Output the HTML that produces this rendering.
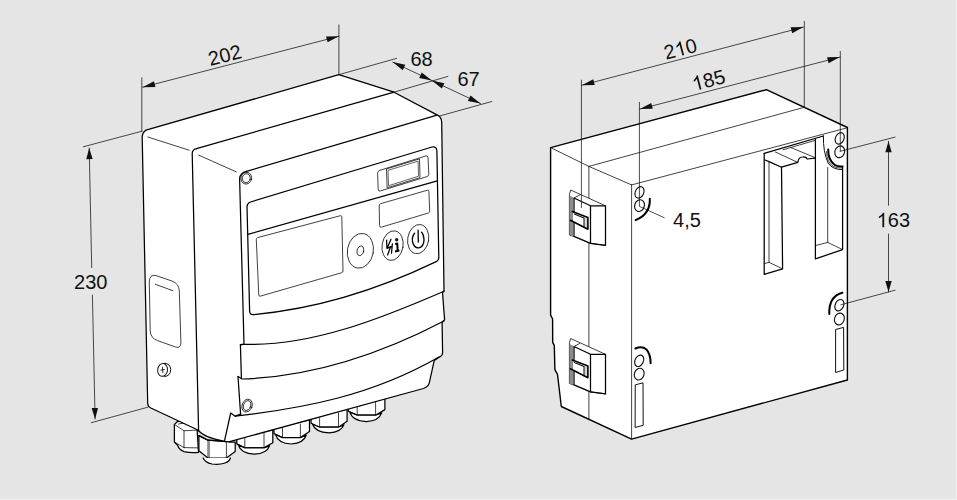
<!DOCTYPE html>
<html><head><meta charset="utf-8"><title>Dimensions</title>
<style>
html,body{margin:0;padding:0;background:#e5e5e5;}
body{width:957px;height:500px;overflow:hidden;font-family:"Liberation Sans",sans-serif;}
svg{display:block}
text{font-family:"Liberation Sans",sans-serif;}
</style></head><body>
<svg width="957" height="500" viewBox="0 0 957 500" stroke-linecap="round" stroke-linejoin="round">
<rect x="0" y="0" width="957" height="500" fill="#e5e5e5"/>
<rect x="956" y="0" width="1" height="500" fill="#f1f1f1"/>
<rect x="0" y="499" width="957" height="1" fill="#f0f0f0"/>
<path d="M174.4,424.4 L177.6,421.5 Q186,420 197,428 L198.5,452.4 Q190,453 184,451.6 Q179,449.5 177.6,445.2 L174.4,442 Z" fill="#ffffff" stroke="#000000" stroke-width="1.25" />
<line x1="184" y1="430.8" x2="184" y2="447.6" stroke="#111111" stroke-width="0.8"/>
<line x1="174.4" y1="442" x2="184" y2="447.6" stroke="#111111" stroke-width="0.8"/>
<line x1="184" y1="447.6" x2="198.4" y2="447.9" stroke="#111111" stroke-width="0.8"/>
<path d="M178.5,424 Q186,421.5 193.5,427.5" fill="none" stroke="#111111" stroke-width="0.8" />
<path d="M174.4,424.4 L184,430.8 L197.9,430" fill="none" stroke="#111111" stroke-width="0.8" />
<path d="M236.8,436 L236.8,443.9 L244.8,447.9 L264,447.9 L272.8,442.8 L272.8,430 Z" fill="#ffffff" stroke="#000000" stroke-width="1.25" />
<line x1="244.8" y1="438" x2="244.8" y2="447.9" stroke="#111111" stroke-width="0.8"/>
<line x1="264" y1="433" x2="264" y2="447.9" stroke="#111111" stroke-width="0.8"/>
<path d="M238.3,444.9 Q240.8,453.6 254.4,454.20000000000005 Q266.8,453.6 269.6,445.85 L264,447.9 L244.8,447.9 Z" fill="#ffffff" stroke="#000000" stroke-width="1.25" />
<path d="M274,428 L274,433.6 L282.5,437.6 L300.4,437.6 L309.5,431.5 L309.5,420 Z" fill="#ffffff" stroke="#000000" stroke-width="1.25" />
<line x1="282.5" y1="428" x2="282.5" y2="437.6" stroke="#111111" stroke-width="0.8"/>
<line x1="300.4" y1="424" x2="300.4" y2="437.6" stroke="#111111" stroke-width="0.8"/>
<path d="M275.5,434.6 Q278,443.4 291.45,444.0 Q303.5,443.4 306.3,435.05 L300.4,437.6 L282.5,437.6 Z" fill="#ffffff" stroke="#000000" stroke-width="1.25" />
<path d="M311.1,418 L311.1,423.2 L319.6,427.2 L338.5,427.2 L347.1,421.3 L347.1,409 Z" fill="#ffffff" stroke="#000000" stroke-width="1.25" />
<line x1="319.6" y1="418" x2="319.6" y2="427.2" stroke="#111111" stroke-width="0.8"/>
<line x1="338.5" y1="412.8" x2="338.5" y2="427.2" stroke="#111111" stroke-width="0.8"/>
<path d="M312.6,424.2 Q315.1,432.2 329.05,432.8 Q341.1,432.2 343.90000000000003,424.75 L338.5,427.2 L319.6,427.2 Z" fill="#ffffff" stroke="#000000" stroke-width="1.25" />
<path d="M348.4,408 L348.4,411.2 L357.2,415.2 L375.6,415.2 L384.9,409.6 L384.9,398.5 Z" fill="#ffffff" stroke="#000000" stroke-width="1.25" />
<line x1="357.2" y1="407.2" x2="357.2" y2="415.2" stroke="#111111" stroke-width="0.8"/>
<line x1="375.6" y1="401.6" x2="375.6" y2="415.2" stroke="#111111" stroke-width="0.8"/>
<path d="M349.9,412.2 Q352.4,421 366.4,421.6 Q378.9,421 381.7,412.9 L375.6,415.2 L357.2,415.2 Z" fill="#ffffff" stroke="#000000" stroke-width="1.25" />
<path d="M142.2,137.4 Q142.3,132.4 146,130.1 L338.8,74.7 L394,92.2 L436.5,114.6 Q441.4,116.5 441.7,122 L444,291.2 L442.5,292.6 L444.6,319.8 L442.1,322.2 L442.6,352.8 Q442.6,355.6 439.5,357 L434.2,360.6 L429.4,382.4 Q428.4,387 423.4,388.5 L228.8,441.9 L224.2,441.3 Q204,437.5 197.9,430 L150.8,408 Q147.8,406.5 147.7,403.5 Z" fill="#ffffff" stroke="#000000" stroke-width="1.25" />
<path d="M198.9,435.6 L198.9,450.8 L208,458 L226.4,458 L235.2,451.6 L235.2,442 L228.8,442 Q214,440.5 208,440.2 Z" fill="#ffffff" stroke="#000000" stroke-width="1.25" />
<line x1="208" y1="440.4" x2="208" y2="458" stroke="#111111" stroke-width="0.8"/>
<line x1="209.3" y1="441" x2="209.3" y2="458" stroke="#111111" stroke-width="0.6"/>
<line x1="226.4" y1="442" x2="226.4" y2="458" stroke="#111111" stroke-width="0.8"/>
<path d="M203.2,458 Q205,462.6 212,464 Q219,465 225,463 Q229.5,461.5 230.4,458" fill="#ffffff" stroke="#000000" stroke-width="1.25" />
<path d="M198.9,435.6 L208,440.2 L226,441.6" fill="none" stroke="#000000" stroke-width="1.25" />
<line x1="394" y1="92.2" x2="196.5" y2="148.6" stroke="#000000" stroke-width="1.25"/>
<line x1="437" y1="115.2" x2="246.5" y2="171.4" stroke="#000000" stroke-width="1.25"/>
<line x1="147.8" y1="137" x2="189.1" y2="150.2" stroke="#111111" stroke-width="0.8"/>
<line x1="198.7" y1="155.1" x2="236.3" y2="171.9" stroke="#111111" stroke-width="0.8"/>
<path d="M198.6,431 L192.2,153.5 Q192.3,149.6 196.5,148.6" fill="none" stroke="#000000" stroke-width="1.25" />
<path d="M246.5,171.4 Q240.2,172.8 239.6,178.5 L244,344.4" fill="none" stroke="#000000" stroke-width="1.25" />
<path d="M244,344.4 L240.4,344.7 L241.4,378" fill="none" stroke="#000000" stroke-width="1.25" />
<path d="M238,376.5 L240.6,414.2" fill="none" stroke="#000000" stroke-width="1.25" />
<path d="M240.6,414.2 L235.2,416.2 L230.7,413 L224.4,441.3" fill="none" stroke="#000000" stroke-width="1.25" />
<path d="M240.4,344.7 L244,344.4 C310.7,346.1 377.3,320.1 444,291.2" fill="none" stroke="#000000" stroke-width="1.25" />
<path d="M238,376.5 L242,379 C309.3,376.9 376.7,356.1 444,321" fill="none" stroke="#000000" stroke-width="1.25" />
<path d="M235.2,416.2 C303.1,408.3 371.1,396 439,357" fill="none" stroke="#000000" stroke-width="1.25" />
<path d="M249.6,310.5 L247,206.5 Q247.2,203.2 250.5,202 L432,147 Q436.6,146 436.9,151 L438.8,257.5 Q438.8,260.4 436.2,261.6 C375.3,290.9 314.2,309.1 253,314.6 Q249.8,314.8 249.6,311 Z" fill="none" stroke="#000000" stroke-width="1.25" />
<line x1="248" y1="234.4" x2="437.3" y2="180.8" stroke="#000000" stroke-width="1.25"/>
<path d="M377.6,173 Q377.5,171.2 379.3,170.5 L426,155.9 Q427.9,155.5 428,157.4 L428.8,174.2 Q428.8,176 427,176.6 L380.2,191 Q378.3,191.5 378.2,189.6 Z" fill="none" stroke="#111111" stroke-width="0.8" />
<path d="M386.9,168.8 L419.5,158.9 L420,177.6 L387.5,187.7 Z" fill="none" stroke="#111111" stroke-width="0.8" />
<path d="M388.4,170.2 L418.1,161.2 L418.5,176.2 L388.9,185.6 Z" fill="none" stroke="#111111" stroke-width="0.65" />
<path d="M379.2,205.6 Q379.2,204.2 380.6,203.7 L427.5,190.2 Q428.9,189.9 428.9,191.4 L429.7,211.2 Q429.7,212.6 428.4,213 L381.2,227.2 Q379.7,227.5 379.6,226 Z" fill="none" stroke="#111111" stroke-width="0.8" />
<path d="M256.3,239.3 Q256.3,238 257.6,237.6 L340.4,215.7 Q341.7,215.5 341.8,216.8 L343,271 Q343,272.3 341.8,272.7 L260.2,296.2 Q258.9,296.5 258.8,295.2 Z" fill="none" stroke="#111111" stroke-width="0.8" />
<ellipse cx="360.4" cy="250.8" rx="13.0" ry="17.5" transform="rotate(10 360.4 250.8)" fill="none" stroke="#111111" stroke-width="0.8"/>
<ellipse cx="360.4" cy="250.8" rx="3.3" ry="4.9" transform="rotate(14 360.4 250.8)" fill="none" stroke="#111111" stroke-width="0.8"/>
<ellipse cx="392.6" cy="245.6" rx="10.5" ry="14.9" transform="rotate(10 392.6 245.6)" fill="none" stroke="#111111" stroke-width="0.8"/>
<ellipse cx="418.2" cy="239.1" rx="10.5" ry="14.7" transform="rotate(10 418.2 239.1)" fill="none" stroke="#111111" stroke-width="0.8"/>
<path d="M414.6,233.2 Q411.6,236.6 412.6,242 Q414.2,248.4 419,247.8 Q423.8,246.6 424,240 Q423.8,234.6 421.6,232.2" fill="none" stroke="#000000" stroke-width="1.35" />
<line x1="418.1" y1="230.2" x2="418.3" y2="242" stroke="#000000" stroke-width="1.3"/>
<path d="M386.6,240.2 L386.9,248 M391,239.2 L387,248.4 L392.2,246.2 M392.4,243.8 L391.5,253.2 M390.4,247.2 L387.6,255" fill="none" stroke="#000000" stroke-width="1.25" />
<path d="M395.2,243.9 L397.3,243.6 L397.6,250.6 M395,251.4 L399.4,250.5" fill="none" stroke="#000000" stroke-width="2.0" stroke-linecap="butt"/>
<ellipse cx="396.7" cy="239.7" rx="1.6" ry="1.7" transform="rotate(0 396.7 239.7)" fill="#111111" stroke="#111111" stroke-width="0.1"/>
<ellipse cx="246.3" cy="178.2" rx="5.4" ry="5.9" transform="rotate(15 246.3 178.2)" fill="none" stroke="#111111" stroke-width="0.8"/>
<ellipse cx="246.3" cy="178.2" rx="4.0" ry="4.5" transform="rotate(15 246.3 178.2)" fill="none" stroke="#111111" stroke-width="0.8"/>
<ellipse cx="247.1" cy="405.6" rx="5.0" ry="6.6" transform="rotate(22 247.1 405.6)" fill="none" stroke="#111111" stroke-width="0.8"/>
<ellipse cx="247.1" cy="405.6" rx="3.6" ry="5.1" transform="rotate(22 247.1 405.6)" fill="none" stroke="#111111" stroke-width="0.8"/>
<path d="M149.3,281.5 Q149.4,274 156,275.6 L172,281 Q179,283.6 179.3,291 L180.9,342.5 Q181,348.6 175.5,347 L157.5,340.6 Q150.4,338 150.2,331 Z" fill="none" stroke="#111111" stroke-width="0.8" />
<line x1="155.3" y1="284.3" x2="172.9" y2="290.7" stroke="#111111" stroke-width="0.8"/>
<ellipse cx="162.6" cy="369.9" rx="4.9" ry="6.4" transform="rotate(8 162.6 369.9)" fill="none" stroke="#111111" stroke-width="1.0"/>
<path d="M164.4,363.2 Q170.4,363.4 170.7,369.6 Q170.6,376 164.6,376.6" fill="none" stroke="#111111" stroke-width="1.0" />
<line x1="162.4" y1="367.2" x2="162.9" y2="372.8" stroke="#111111" stroke-width="0.85"/>
<line x1="160.8" y1="370.1" x2="164.4" y2="369.5" stroke="#111111" stroke-width="0.85"/>
<path d="M550.6,147.6 L766.4,89.7 L847.4,127.5 L847.4,380 L631.6,439.1 L561.3,406.5 L557.5,374.4 L554.9,369.6 L554.3,345.6 L552.7,342.4 L552.6,319 L550.6,315.2 Z" fill="#ffffff" stroke="#000000" stroke-width="1.4" />
<path d="M550.6,147.6 L588.9,166.4 L631.6,184.9" fill="none" stroke="#111111" stroke-width="0.8" />
<line x1="588.9" y1="166.4" x2="804.3" y2="107.3" stroke="#111111" stroke-width="0.8"/>
<line x1="631.6" y1="184.9" x2="846.6" y2="128" stroke="#111111" stroke-width="0.8"/>
<line x1="588.9" y1="166.4" x2="588.9" y2="419.2" stroke="#111111" stroke-width="0.8"/>
<line x1="631.6" y1="184.9" x2="631.6" y2="439.1" stroke="#111111" stroke-width="0.8"/>
<path d="M571.0,190.2 L605.5,205.8 L605.5,245.4 L590.5,243.4 L573.0,236.3 L569.4,235.0 L569.4,194.7 Z" fill="#ffffff" stroke="#111111" stroke-width="0.8" />
<path d="M569.7,195.6 L573.0,197.2 L573.0,235.9 L569.7,234.7 Z" fill="#8c8c8c" stroke="none"/>
<path d="M574.0,212.5 L574.0,198.0 L590.5,205.8 L590.5,243.4 L574.0,236.3 L574.0,222.4" fill="#ffffff" stroke="#000000" stroke-width="1.25" />
<path d="M574.0,198.0 L579.5,195.1" fill="none" stroke="#111111" stroke-width="0.8" />
<path d="M590.5,205.8 L605.5,205.8 L605.5,245.4 L590.5,243.4" fill="none" stroke="#000000" stroke-width="1.25" />
<path d="M584.0,217.7 L587.9,217.5 L587.9,229.2 L584.0,227.2 Z" fill="#d6d6d6" stroke="none"/>
<path d="M572.3,211.6 L587.9,217.5 L587.9,229.2 L570.4,220.3" fill="none" stroke="#000000" stroke-width="1.6" />
<path d="M574.3,214.1 L584.0,218.0 L584.0,227.2" fill="none" stroke="#111111" stroke-width="1.05" />
<path d="M571.0,338.7 L605.5,354.3 L605.5,393.9 L590.5,391.9 L573.0,384.8 L569.4,383.5 L569.4,343.2 Z" fill="#ffffff" stroke="#111111" stroke-width="0.8" />
<path d="M569.7,344.1 L573.0,345.7 L573.0,384.4 L569.7,383.2 Z" fill="#8c8c8c" stroke="none"/>
<path d="M574.0,361.0 L574.0,346.5 L590.5,354.3 L590.5,391.9 L574.0,384.8 L574.0,370.9" fill="#ffffff" stroke="#000000" stroke-width="1.25" />
<path d="M574.0,346.5 L579.5,343.6" fill="none" stroke="#111111" stroke-width="0.8" />
<path d="M590.5,354.3 L605.5,354.3 L605.5,393.9 L590.5,391.9" fill="none" stroke="#000000" stroke-width="1.25" />
<path d="M584.0,366.2 L587.9,366.0 L587.9,377.7 L584.0,375.7 Z" fill="#d6d6d6" stroke="none"/>
<path d="M572.3,360.1 L587.9,366.0 L587.9,377.7 L570.4,368.8" fill="none" stroke="#000000" stroke-width="1.6" />
<path d="M574.3,362.6 L584.0,366.5 L584.0,375.7" fill="none" stroke="#111111" stroke-width="1.05" />
<ellipse cx="639.5" cy="192.4" rx="4.2" ry="6.0" transform="rotate(25 639.5 192.4)" fill="#ffffff" stroke="#111111" stroke-width="1.15"/>
<ellipse cx="639.5" cy="205.6" rx="4.8" ry="6.0" transform="rotate(20 639.5 205.6)" fill="#ffffff" stroke="#111111" stroke-width="1.15"/>
<path d="M649.8,198.8 Q650.6,214 635.6,220.2" fill="none" stroke="#000000" stroke-width="2" />
<ellipse cx="839.7" cy="138.4" rx="4.2" ry="6.0" transform="rotate(25 839.7 138.4)" fill="#ffffff" stroke="#111111" stroke-width="1.15"/>
<ellipse cx="839.7" cy="151.8" rx="4.8" ry="6.0" transform="rotate(20 839.7 151.8)" fill="#ffffff" stroke="#111111" stroke-width="1.15"/>
<ellipse cx="639.2" cy="360.8" rx="4.2" ry="6.0" transform="rotate(25 639.2 360.8)" fill="#ffffff" stroke="#111111" stroke-width="1.15"/>
<ellipse cx="639.2" cy="374.1" rx="4.8" ry="6.0" transform="rotate(20 639.2 374.1)" fill="#ffffff" stroke="#111111" stroke-width="1.15"/>
<path d="M635.4,348.5 Q642,345.6 646.4,349.4 Q650.6,354 650.6,363.2" fill="none" stroke="#000000" stroke-width="2" />
<ellipse cx="839.4" cy="305.2" rx="4.2" ry="6.0" transform="rotate(25 839.4 305.2)" fill="#ffffff" stroke="#111111" stroke-width="1.15"/>
<ellipse cx="839.4" cy="319" rx="4.8" ry="6.0" transform="rotate(20 839.4 319)" fill="#ffffff" stroke="#111111" stroke-width="1.15"/>
<path d="M829.3,314 Q828.6,296.5 842.4,292.8" fill="none" stroke="#000000" stroke-width="2" />
<path d="M635.6,384.8 L643,382.8 L643.2,425.3 L635.5,427.4 Z" fill="none" stroke="#111111" stroke-width="1.0" />
<path d="M836,329.4 L843.6,327.4 L843.8,370 L836,372.4 Z" fill="none" stroke="#111111" stroke-width="1.0" />
<path d="M764.2,153.3 L764.2,274.4 L782.6,268.8 L781.5,167.2" fill="none" stroke="#000000" stroke-width="1.25" />
<path d="M764.2,153.3 L823.4,136" fill="none" stroke="#000000" stroke-width="1.25" />
<path d="M769,161.6 L769,262.4 L782.6,268.8 M769,262.4 L764.2,263.6" fill="none" stroke="#111111" stroke-width="0.8" />
<path d="M765,160 L769,161.6 L781.5,167.2 L797.8,162.4 Q798.4,157.2 802.5,157 Q806,156.6 807.2,159 L815.4,158.1" fill="none" stroke="#000000" stroke-width="1.25" />
<path d="M775.4,152 L797.8,162.4 M790.5,147.4 L815.4,157.8" fill="none" stroke="#111111" stroke-width="0.8" />
<line x1="783" y1="149.8" x2="815.4" y2="140.3" stroke="#111111" stroke-width="0.8"/>
<path d="M815.4,138.6 L815.4,258.9 L842.6,249.6 L842.6,167.2" fill="none" stroke="#000000" stroke-width="1.25" />
<path d="M827.7,167.5 L827.7,242.4 L842.6,249.6 M827.7,242.4 L815.4,245.6" fill="none" stroke="#111111" stroke-width="0.8" />
<path d="M823.4,136 Q823,152 828.2,163.2 Q833,170 842.6,169.6" fill="none" stroke="#111111" stroke-width="1.0" />
<path d="M828.2,149.6 Q828,160 834.6,164.8 Q838,166.6 842.6,166.4" fill="none" stroke="#000000" stroke-width="2" />
<path d="M826.6,151.5 Q826.4,162.5 833.6,166.6 Q837.4,168.4 842.4,168" fill="none" stroke="#111111" stroke-width="0.8" />
<line x1="141.8" y1="77.7" x2="141.8" y2="131.6" stroke="#111111" stroke-width="0.75"/>
<line x1="338.9" y1="25" x2="338.9" y2="74.2" stroke="#111111" stroke-width="0.75"/>
<line x1="142.6" y1="87.2" x2="338.9" y2="36.3" stroke="#111111" stroke-width="0.75"/>
<polygon points="142.60,87.20 153.95,81.16 155.45,86.97" fill="#111111"/>
<polygon points="338.90,36.30 327.55,42.34 326.05,36.53" fill="#111111"/>
<g transform="rotate(-14.5 224.8 55.1)"><text x="208.12" y="62.03" font-size="20" fill="#111">2</text><text x="219.24" y="62.03" font-size="20" fill="#111">0</text><text x="230.36" y="62.03" font-size="20" fill="#111">2</text></g>
<line x1="338.8" y1="74.7" x2="396.5" y2="58.4" stroke="#111111" stroke-width="0.75"/>
<line x1="394" y1="92.2" x2="447.9" y2="76.4" stroke="#111111" stroke-width="0.75"/>
<line x1="439.1" y1="116.1" x2="491.8" y2="101.5" stroke="#111111" stroke-width="0.75"/>
<line x1="392.7" y1="62.1" x2="480.5" y2="103.5" stroke="#111111" stroke-width="0.75"/>
<polygon points="392.70,62.10 405.29,64.72 402.73,70.14" fill="#111111"/>
<polygon points="431.80,80.50 419.21,77.89 421.77,72.46" fill="#111111"/>
<polygon points="431.80,80.50 444.38,83.13 441.82,88.55" fill="#111111"/>
<polygon points="480.50,103.50 467.91,100.88 470.47,95.46" fill="#111111"/>
<g transform="rotate(0 421.6 58.9)"><text x="410.48" y="65.83" font-size="20" fill="#111">6</text><text x="421.60" y="65.83" font-size="20" fill="#111">8</text></g>
<g transform="rotate(0 468.5 79.0)"><text x="457.38" y="85.93" font-size="20" fill="#111">6</text><text x="468.50" y="85.93" font-size="20" fill="#111">7</text></g>
<line x1="83.3" y1="146.8" x2="142" y2="131.2" stroke="#111111" stroke-width="0.75"/>
<line x1="91.3" y1="422.7" x2="147.8" y2="407.2" stroke="#111111" stroke-width="0.75"/>
<line x1="89.2" y1="148.1" x2="91.7" y2="267.6" stroke="#111111" stroke-width="0.75"/>
<line x1="92.4" y1="295.2" x2="95.1" y2="419" stroke="#111111" stroke-width="0.75"/>
<polygon points="89.20,148.10 92.64,159.03 86.24,159.17" fill="#111111"/>
<polygon points="95.10,419.00 91.66,408.07 98.06,407.93" fill="#111111"/>
<g transform="rotate(0 90.8 281.8)"><text x="74.12" y="288.73" font-size="20" fill="#111">2</text><text x="85.24" y="288.73" font-size="20" fill="#111">3</text><text x="96.36" y="288.73" font-size="20" fill="#111">0</text></g>
<line x1="581.4" y1="80.2" x2="581.4" y2="207.6" stroke="#111111" stroke-width="0.75"/>
<line x1="804.3" y1="21.3" x2="804.3" y2="106.8" stroke="#111111" stroke-width="0.75"/>
<line x1="581.9" y1="85.2" x2="803.5" y2="27.1" stroke="#111111" stroke-width="0.75"/>
<polygon points="581.90,85.20 593.23,79.13 594.75,84.93" fill="#111111"/>
<polygon points="803.50,27.10 792.17,33.17 790.65,27.37" fill="#111111"/>
<g transform="rotate(-14.7 680.5 48.9)"><text x="663.82" y="55.83" font-size="20" fill="#111">2</text><path d="M763 0H583V1147Q518 1085 412.5 1023T223 930V1104Q374 1175 487 1276T647 1472H763Z" transform="translate(674.94 55.83) scale(0.00977 -0.00977)" fill="#111"/><text x="686.06" y="55.83" font-size="20" fill="#111">0</text></g>
<line x1="639.4" y1="102.3" x2="639.4" y2="206" stroke="#111111" stroke-width="0.75"/>
<line x1="840.3" y1="51.4" x2="840.3" y2="151.2" stroke="#111111" stroke-width="0.75"/>
<line x1="639.9" y1="109.1" x2="839.9" y2="57.1" stroke="#111111" stroke-width="0.75"/>
<polygon points="639.90,109.10 651.24,103.05 652.75,108.86" fill="#111111"/>
<polygon points="839.90,57.10 828.56,63.15 827.05,57.34" fill="#111111"/>
<g transform="rotate(-14.7 708.6 80.2)"><path d="M763 0H583V1147Q518 1085 412.5 1023T223 930V1104Q374 1175 487 1276T647 1472H763Z" transform="translate(691.92 87.13) scale(0.00977 -0.00977)" fill="#111"/><text x="703.04" y="87.13" font-size="20" fill="#111">8</text><text x="714.16" y="87.13" font-size="20" fill="#111">5</text></g>
<line x1="639.7" y1="206.5" x2="664.2" y2="217.7" stroke="#111111" stroke-width="0.75"/>
<g transform="rotate(0 687 219.8)"><text x="673.10" y="226.73" font-size="20" fill="#111">4</text><text x="684.22" y="226.73" font-size="20" fill="#111">,</text><text x="689.78" y="226.73" font-size="20" fill="#111">5</text></g>
<line x1="840.2" y1="151.3" x2="895.1" y2="137.1" stroke="#111111" stroke-width="0.75"/>
<line x1="840.8" y1="304.8" x2="895.1" y2="290.2" stroke="#111111" stroke-width="0.75"/>
<line x1="888.5" y1="141.3" x2="888.5" y2="205.3" stroke="#111111" stroke-width="0.75"/>
<line x1="888.5" y1="234.1" x2="888.5" y2="291.9" stroke="#111111" stroke-width="0.75"/>
<polygon points="888.50,141.30 891.70,152.30 885.30,152.30" fill="#111111"/>
<polygon points="888.50,291.90 885.30,280.90 891.70,280.90" fill="#111111"/>
<g transform="rotate(0 893.4 220.3)"><path d="M763 0H583V1147Q518 1085 412.5 1023T223 930V1104Q374 1175 487 1276T647 1472H763Z" transform="translate(876.72 227.23) scale(0.00977 -0.00977)" fill="#111"/><text x="887.84" y="227.23" font-size="20" fill="#111">6</text><text x="898.96" y="227.23" font-size="20" fill="#111">3</text></g>
</svg>
</body></html>
